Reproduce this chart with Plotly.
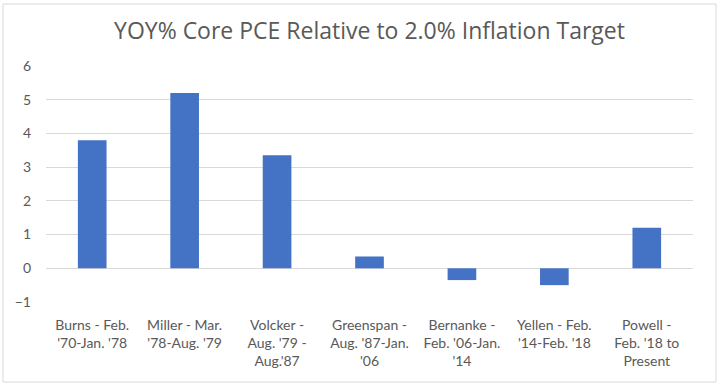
import plotly.graph_objects as go

categories = [
    "Burns - Feb.<br>'70-Jan. '78",
    "Miller - Mar.<br>'78-Aug. '79",
    "Volcker -<br>Aug. '79 -<br>Aug.'87",
    "Greenspan -<br>Aug. '87-Jan.<br>'06",
    "Bernanke -<br>Feb. '06-Jan.<br>'14",
    "Yellen - Feb.<br>'14-Feb. '18",
    "Powell -<br>Feb. '18 to<br>Present",
]
values = [3.8, 5.2, 3.35, 0.35, -0.35, -0.5, 1.2]
y_ticks = [-1, 0, 1, 2, 3, 4, 5, 6]

W, H = 720, 386
L, R, T, B = 46, 27, 66, 84
pw = W - L - R
ph = H - T - B

fig = go.Figure(go.Bar(x=categories, y=values, marker_color="#4472C4",
                       marker_line_width=0, width=0.31))

# light outer frame of the chart area
fig.add_shape(type="rect", xref="paper", yref="paper",
              x0=(3 - L) / pw, x1=(716 - L) / pw,
              y0=-(382 - (H - B)) / ph, y1=1 + (T - 4) / ph,
              line=dict(color="#d9d9d9", width=1), layer="below")

fig.update_layout(
    width=W, height=H,
    margin=dict(l=L, r=R, t=T, b=B),
    paper_bgcolor="white", plot_bgcolor="white",
    font=dict(family="Lato, Open Sans, sans-serif", color="#595959", size=14),
    title=dict(text="YOY% Core PCE Relative to 2.0% Inflation Target",
               x=0.5, xref="paper", xanchor="center", y=1 - 31 / H, yanchor="middle",
               font=dict(size=23, color="#595959", family="Open Sans, sans-serif")),
    showlegend=False,
)
fig.update_xaxes(showgrid=False, showline=False, zeroline=False, tickangle=0,
                 ticks="", ticklabelstandoff=13)
fig.update_yaxes(range=[-1, 6], tickvals=y_ticks, showgrid=True, gridcolor="#d9d9d9",
                 gridwidth=1, zeroline=True, zerolinecolor="#d9d9d9", zerolinewidth=1,
                 showline=False, ticks="", ticklabelstandoff=14)

fig.write_html("out.html", config={"displayModeBar": False},
               post_script="document.body.style.margin='0';")
